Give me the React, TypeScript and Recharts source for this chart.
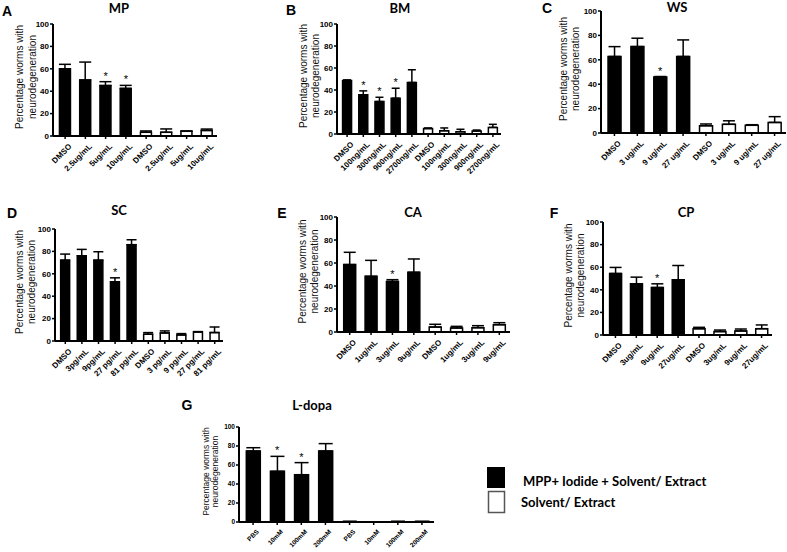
import React from 'react';
import { ComposedChart, Bar, XAxis, YAxis, ErrorBar, Cell, Line } from 'recharts';

const FONT = '"Liberation Sans", Arial, sans-serif';
const TITLE_FONT = 'Lato, "Open Sans", sans-serif';

const yTicks = [0, 20, 40, 60, 80, 100];

// A - MP
const catsA = ['DMSO', '2.5ug/mL', '5ug/mL', '10ug/mL', 'DMSO', '2.5ug/mL', '5ug/mL', '10ug/mL'];
const meanA = [60, 50, 45, 42.5, 3.3, 3.3, 4.2, 5];
const errA = [4, 16, 3.5, 2.7, 1.2, 3, 0.3, 1.2];
const starA = [0, 0, 1, 1, 0, 0, 0, 0];

// B - BM
const catsB = ['DMSO', '100ng/mL', '300ng/mL', '900ng/mL', '2700ng/mL', 'DMSO', '100ng/mL', '300ng/mL', '900ng/mL', '2700ng/mL'];
const meanB = [48.6, 35.6, 29.5, 32.5, 46.8, 4.9, 3, 2.1, 2.7, 6];
const errB = [0.6, 3.6, 3.9, 9.1, 11.6, 0.6, 2.5, 2.2, 0.9, 2.8];
const starB = [0, 1, 1, 1, 0, 0, 0, 0, 0, 0];

// C - WS
const catsC = ['DMSO', '3 ug/mL', '9 ug/mL', '27 ug/mL', 'DMSO', '3 ug/mL', '9 ug/mL', '27 ug/mL'];
const meanC = [62.7, 70.8, 45.8, 62.7, 6, 7.1, 6.3, 8.7];
const errC = [8.1, 6.9, 0.5, 13.6, 1.4, 2.9, 0.5, 4.7];
const starC = [0, 0, 1, 0, 0, 0, 0, 0];

// D - SC
const catsD = ['DMSO', '3pg/mL', '9pg/mL', '27 pg/mL', '81 pg/mL', 'DMSO', '3 pg/mL', '9 pg/mL', '27 pg/mL', '81 pg/mL'];
const meanD = [72.2, 76.1, 72.2, 52.8, 86, 6, 7.2, 5.4, 8.1, 7.5];
const errD = [5.4, 5.7, 7.5, 3.6, 4.4, 1.5, 1.8, 1.2, 0.3, 5];
const starD = [0, 0, 0, 1, 0, 0, 0, 0, 0, 0];

// E - CA
const catsE = ['DMSO', '1ug/mL', '3ug/mL', '9ug/mL', 'DMSO', '1ug/mL', '3ug/mL', '9ug/mL'];
const meanE = [58.6, 48.4, 44, 51.9, 4.3, 3.5, 3.8, 6.4];
const errE = [10.7, 13.9, 1.5, 11.6, 2.4, 1.4, 1.7, 1.7];
const starE = [0, 0, 1, 0, 0, 0, 0, 0];

// F - CP
const catsF = ['DMSO', '3ug/mL', '9ug/mL', '27ug/mL', 'DMSO', '3ug/mL', '9ug/mL', '27ug/mL'];
const meanF = [54.4, 45.3, 42, 48.8, 5.6, 3, 3.6, 5.6];
const errF = [5.4, 5.9, 3.3, 12.7, 1.2, 1.4, 1.7, 3.3];
const starF = [0, 0, 1, 0, 0, 0, 0, 0];

// G - L-dopa
const catsG = ['PBS', '10mM', '100mM', '200mM', 'PBS', '10mM', '100mM', '200mM'];
const meanG = [74.7, 53.3, 49.8, 74.7, 0.3, 0.2, 0.3, 0.5];
const errG = [3.5, 15.8, 12.7, 7.8, 0.5, 0, 0.5, 0];
const starG = [0, 1, 1, 0, 0, 0, 0, 0];

const legendLabels = ['MPP+ Iodide + Solvent/ Extract', 'Solvent/ Extract'];

type Cfg = {
  axisX: number; yTop: number; yBot: number; xEnd: number;
  cats: string[]; mean: number[]; err: number[]; star: number[]; nBlack: number;
  title: string; titleX: number; titleY: number;
  letter: string; letterX: number; letterY: number;
  off1: number; off2: number;
  tickFs: number; yTickFs: number; labFs: number;
};

const panels: Cfg[] = [
  { axisX: 53, yTop: 24, yBot: 136, xEnd: 217, cats: catsA, mean: meanA, err: errA, star: starA, nBlack: 4,
    title: 'MP', titleX: 119, titleY: 8, letter: 'A', letterX: 7, letterY: 11, off1: 34, off2: 21, tickFs: 8, yTickFs: 8, labFs: 10 },
  { axisX: 337, yTop: 24, yBot: 134, xEnd: 501, cats: catsB, mean: meanB, err: errB, star: starB, nBlack: 5,
    title: 'BM', titleX: 400, titleY: 8, letter: 'B', letterX: 291, letterY: 10, off1: 34, off2: 22, tickFs: 8, yTickFs: 8, labFs: 10 },
  { axisX: 601, yTop: 11, yBot: 133, xEnd: 786, cats: catsC, mean: meanC, err: errC, star: starC, nBlack: 4,
    title: 'WS', titleX: 677, titleY: 7, letter: 'C', letterX: 547, letterY: 8, off1: 38, off2: 26, tickFs: 8, yTickFs: 8, labFs: 10 },
  { axisX: 55, yTop: 229, yBot: 341, xEnd: 223, cats: catsD, mean: meanD, err: errD, star: starD, nBlack: 5,
    title: 'SC', titleX: 119, titleY: 210, letter: 'D', letterX: 12, letterY: 213, off1: 36, off2: 24, tickFs: 8, yTickFs: 8, labFs: 10 },
  { axisX: 337, yTop: 217, yBot: 332, xEnd: 510, cats: catsE, mean: meanE, err: errE, star: starE, nBlack: 4,
    title: 'CA', titleX: 413, titleY: 212, letter: 'E', letterX: 282, letterY: 213, off1: 35, off2: 23, tickFs: 8, yTickFs: 8, labFs: 10 },
  { axisX: 603, yTop: 222, yBot: 335, xEnd: 772, cats: catsF, mean: meanF, err: errF, star: starF, nBlack: 4,
    title: 'CP', titleX: 686, titleY: 212, letter: 'F', letterX: 554, letterY: 213, off1: 35, off2: 23, tickFs: 8, yTickFs: 8, labFs: 10 },
  { axisX: 239, yTop: 427, yBot: 522, xEnd: 434, cats: catsG, mean: meanG, err: errG, star: starG, nBlack: 4,
    title: 'L-dopa', titleX: 312, titleY: 405, letter: 'G', letterX: 187, letterY: 405, off1: 33, off2: 24, tickFs: 6.5, yTickFs: 6.5, labFs: 8.5 },
];

const StarDot = (props: any) => {
  const { cx, cy, payload, index } = props;
  if (cy == null || payload == null || payload.s == null) return <g key={'s' + index} />;
  return (
    <text key={'s' + index} x={cx} y={cy - 2} textAnchor="middle" fontSize={11} fontFamily={FONT} fill="#000" stroke="none">*</text>
  );
};

function Panel({ cfg }: { cfg: Cfg }) {
  const { axisX, yTop, yBot, xEnd, cats, mean, err, star, nBlack, tickFs, yTickFs } = cfg;
  const YW = 30, MT = 4, MR = 3, XH = 50;
  const plotW = xEnd - axisX, plotH = yBot - yTop;
  const width = YW + plotW + MR, height = MT + plotH + XH;
  const data = cats.map((c, i) => ({ i, v: mean[i], e: [0, err[i]], s: star[i] ? mean[i] + err[i] : null }));
  const capHalf = Math.round((plotW / cats.length) * 0.27);
  const renderTick = (p: any) => {
    const { x, y, payload } = p;
    return (
      <g transform={`translate(${x + 3},${y + 2})`}>
        <text x={0} y={0} dy="0.7em" textAnchor="end" transform="rotate(-45)" fontSize={tickFs} fontWeight="bold" fontFamily={FONT} fill="#000">
          {cats[payload.value]}
        </text>
      </g>
    );
  };
  return (
    <div style={{ position: 'absolute', left: axisX - YW, top: yTop - MT }}>
      <ComposedChart width={width} height={height} data={data} margin={{ top: MT, right: MR, left: 0, bottom: 0 }} barCategoryGap="22%">
        <XAxis dataKey="i" type="category" height={XH} interval={0} padding={{ left: 2, right: 0 }}
          axisLine={{ stroke: '#000', strokeWidth: 2 }} tickLine={{ stroke: '#000', strokeWidth: 1.5 }} tickSize={3}
          tick={renderTick} />
        <YAxis type="number" domain={[0, 100]} ticks={yTicks} width={YW} interval={0}
          axisLine={{ stroke: '#000', strokeWidth: 2 }} tickLine={{ stroke: '#000', strokeWidth: 1.5 }} tickSize={3} tickMargin={1}
          tick={{ fontSize: yTickFs, fill: '#000', fontFamily: FONT, fontWeight: 'bold' }} />
        <Bar dataKey="v" isAnimationActive={false} stroke="#000" strokeWidth={1.5}>
          {data.map((d, i) => <Cell key={i} fill={i < nBlack ? '#000' : '#fff'} />)}
          <ErrorBar dataKey="e" width={capHalf} stroke="#000" strokeWidth={1.5} direction="y" />
        </Bar>
        <Line dataKey="s" stroke="none" isAnimationActive={false} dot={StarDot} activeDot={false} legendType="none" />
      </ComposedChart>
    </div>
  );
}

export default function App() {
  return (
    <div style={{ position: 'absolute', left: 0, top: 0, width: 787, height: 552, background: '#fff', overflow: 'hidden' }}>
      {panels.map((p, k) => <Panel key={k} cfg={p} />)}
      <svg width={787} height={552} style={{ position: 'absolute', left: 0, top: 0, pointerEvents: 'none' }}>
        {panels.map((p, k) => {
          const cy = (p.yTop + p.yBot) / 2 - 3;
          return (
            <g key={k}>
              <text x={p.letterX} y={p.letterY} textAnchor="middle" dominantBaseline="central" fontSize={14} fontWeight="bold" fontFamily={FONT} fill="#000">{p.letter}</text>
              <text x={p.titleX} y={p.titleY} textAnchor="middle" dominantBaseline="central" fontSize={13} fontWeight="bold" fontFamily={TITLE_FONT} fill="#000">{p.title}</text>
              <text transform={`translate(${p.axisX - p.off1},${cy}) rotate(-90)`} textAnchor="middle" dominantBaseline="central" fontSize={p.labFs} fontFamily={FONT} fill="#111">Percentage worms with</text>
              <text transform={`translate(${p.axisX - p.off2},${cy}) rotate(-90)`} textAnchor="middle" dominantBaseline="central" fontSize={p.labFs} fontFamily={FONT} fill="#111">neurodegeneration</text>
            </g>
          );
        })}
        <rect x={487} y={467} width={18} height={21} fill="#000" />
        <rect x={488.5} y={491.5} width={16} height={21} fill="#fff" stroke="#555" strokeWidth={1.5} />
        <text x={523} y={481} dominantBaseline="central" fontSize={13} fontWeight="bold" fontFamily={TITLE_FONT} fill="#000">{legendLabels[0]}</text>
        <text x={521} y={502} dominantBaseline="central" fontSize={13} fontWeight="bold" fontFamily={TITLE_FONT} fill="#000">{legendLabels[1]}</text>
      </svg>
    </div>
  );
}
